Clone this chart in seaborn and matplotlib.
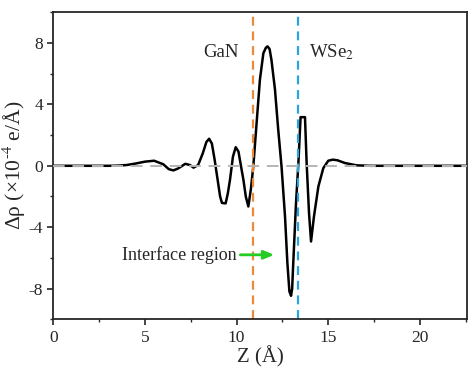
import numpy as np
import pandas as pd
import seaborn as sns
import matplotlib.pyplot as plt
from matplotlib.ticker import MultipleLocator

# --- Data ---
z = [0, 1, 2, 3, 3.5, 4.0, 4.5, 5.0, 5.5, 6.0, 6.3, 6.55, 6.8, 7.2, 7.45, 7.65,
     7.9, 8.15, 8.35, 8.5, 8.65, 8.8, 8.95, 9.1, 9.2, 9.4, 9.52, 9.64, 9.8, 9.95,
     10.1, 10.25, 10.37, 10.5, 10.64, 10.78, 10.91, 11.09, 11.27, 11.46, 11.6,
     11.69, 11.8, 11.9, 12.09, 12.27, 12.45, 12.64, 12.77, 12.88, 12.97, 13.03,
     13.09, 13.24, 13.37, 13.49, 13.73, 13.82, 13.95, 14.06, 14.22, 14.46, 14.73,
     15.0, 15.25, 15.5, 15.91, 16.55, 17.3, 18.0, 20.0, 22.55]
drho = [0, 0, 0, 0, 0.01, 0.05, 0.15, 0.27, 0.33, 0.1, -0.22, -0.3, -0.18, 0.13,
        0.05, -0.12, 0.05, 0.8, 1.55, 1.76, 1.45, 0.4, -0.8, -2.0, -2.42, -2.45,
        -1.8, -0.9, 0.6, 1.21, 0.93, -0.1, -0.91, -2.0, -2.65, -1.5, -0.04, 2.78,
        5.6, 7.34, 7.7, 7.78, 7.6, 6.9, 5.0, 2.35, -0.04, -3.3, -6.34, -8.19,
        -8.47, -8.0, -6.34, -2.43, 0.18, 3.17, 3.17, 0.18, -3.08, -4.93, -3.3,
        -1.35, -0.15, 0.33, 0.4, 0.36, 0.18, 0.03, 0.0, 0, 0, 0]
gan_edge = 10.91
wse2_edge = 13.33
x_max = 22.55

df = pd.DataFrame({'Z': z, 'drho': drho})

# --- Style ---
sns.set_style('ticks')
plt.rcParams['font.family'] = ['Liberation Serif', 'DejaVu Serif']
plt.rcParams['mathtext.fontset'] = 'stix'
plt.rcParams['axes.unicode_minus'] = False

fig = plt.figure(figsize=(4.74, 3.73), dpi=100)
ax = fig.add_axes([0.1125, 0.144, 0.872, 0.823])

sns.lineplot(data=df, x='Z', y='drho', color='black', lw=1.8, ax=ax)
ax.axhline(0, color='#b4b4b4', lw=1.4, ls=(0, (6, 4)), zorder=3)
ax.axvline(gan_edge, color='#ec8a3c', lw=1.6, ls=(0, (4, 2.6)))
ax.axvline(wse2_edge, color='#2aa4dc', lw=1.6, ls=(0, (4, 2.6)))

ax.text(9.15, 7.4, 'GaN', fontsize=13.5, ha='center', va='center')
ax.text(15.2, 7.4, 'WSe$_2$', fontsize=13.5, ha='center', va='center')
ax.text(10.02, -5.8, 'Interface region', fontsize=13, ha='right', va='center')
ax.annotate('', xy=(12.2, -5.8), xytext=(10.05, -5.8),
            arrowprops=dict(arrowstyle='-|>,head_width=0.25,head_length=0.6',
                            color='#22cc22', lw=2))

ax.set_xlim(0, x_max)
ax.set_ylim(-10, 10)
ax.xaxis.set_major_locator(MultipleLocator(5))
ax.xaxis.set_minor_locator(MultipleLocator(2.5))
ax.yaxis.set_major_locator(MultipleLocator(4))
ax.yaxis.set_minor_locator(MultipleLocator(2))
ax.set_yticks([-8, -4, 0, 4, 8])
ax.tick_params(which='major', length=4, width=1.2, labelsize=12.5, direction='out')
ax.tick_params(which='minor', length=2.5, width=1.0, direction='out')
for s in ax.spines.values():
    s.set_linewidth(1.3)
    s.set_visible(True)

ax.set_xlabel('Z (Å)', fontsize=15, labelpad=0)
ax.set_ylabel(r'Δρ (×10$^{\text{-4}}$ e/Å)', fontsize=15.5, labelpad=0)

plt.savefig('out.png', dpi=100)
